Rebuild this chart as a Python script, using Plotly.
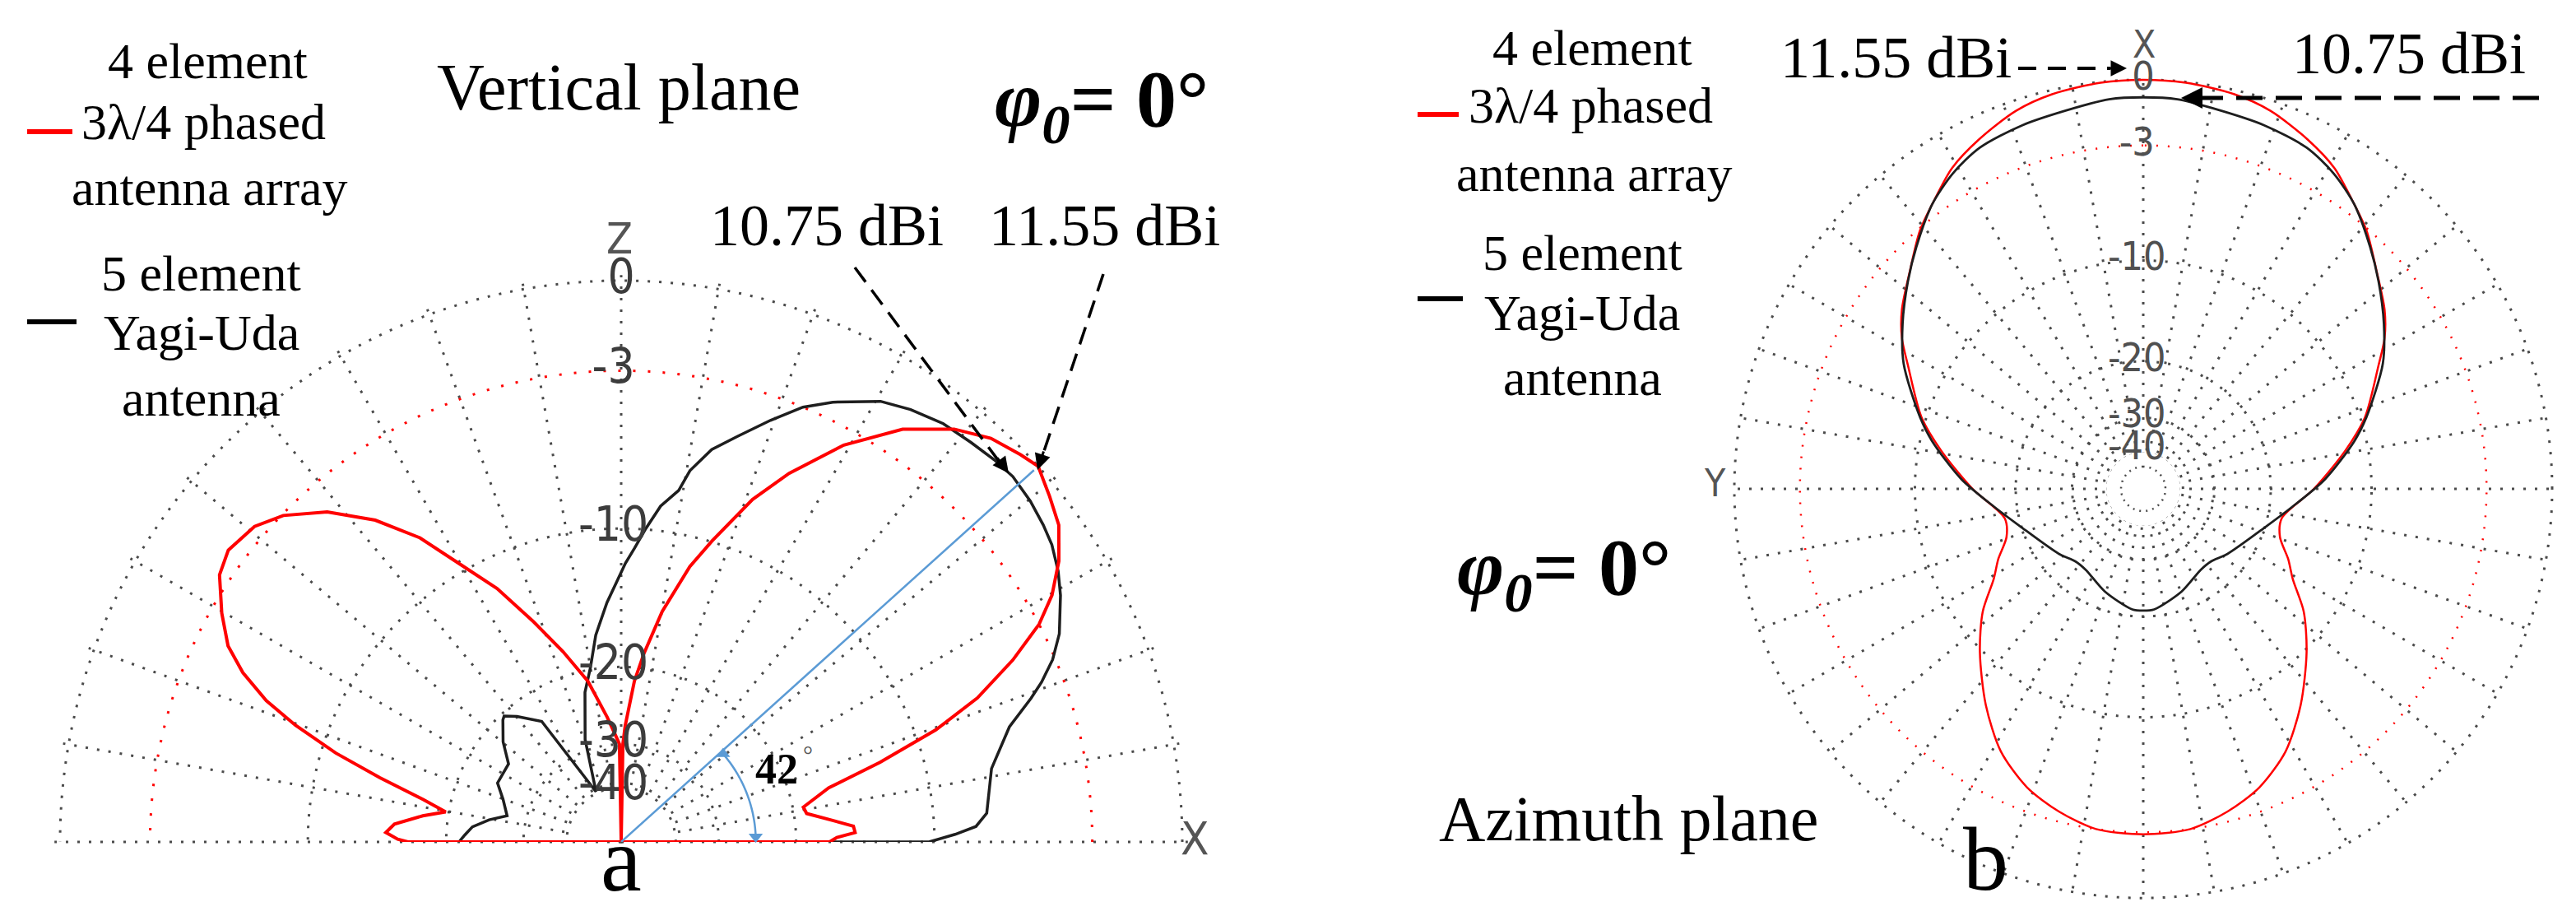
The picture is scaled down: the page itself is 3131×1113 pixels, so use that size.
import numpy as np
import plotly.graph_objects as go

W, H = 3131, 1113

# ---------------- data (gain in dB, relative to 11.55 dBi) ----------------
# (a) Vertical plane, elevation angle in degrees (0 = X, 90 = Z)
v_red_theta = [0, 1.2, 2.3, 3.9, 6.1, 8.7, 10.8, 14.6, 17.1, 19.6, 22.0, 24.9, 27.5, 29.8, 32.7,
               35.9, 38.9, 42.0, 44.1, 47.5, 51.1, 55.7, 60.7, 65.5, 69.0, 73.2, 76.0, 79.9, 83.1,
               85.3, 88.0, 89.0, 90.0, 91.0, 93.0, 96.4, 101.7, 107.0, 111.7, 116.1, 120.1, 123.5,
               127.4, 131.7, 136.0, 139.3, 143.4, 146.4, 150.2, 153.5, 155.9, 158.3, 160.3, 162.7,
               165.1, 167.9, 170.3, 172.5, 175.5, 177.7, 179.3, 180]
v_red_db = [-17.0, -16.4, -15.0, -15.1, -16.9, -18.8, -19.0, -16.5, -12.5, -8.9, -6.5, -4.5, -3.0,
            -2.1, -1.3, -0.65, -0.33, 0.0, -0.15, -0.43, -0.97, -2.0, -3.6, -5.6, -7.3, -9.95,
            -11.7, -15.0, -18.6, -21.4, -27.0, -30.0, -100, -30.0, -28.5, -25.7, -21.1, -17.8,
            -14.8, -11.8, -9.6, -7.4, -5.6, -4.1, -3.05, -2.55, -2.35, -2.6, -3.4, -4.2, -5.2,
            -6.6, -8.3, -10.8, -13.9, -17.5, -19.7, -17.7, -15.5, -14.9, -15.8, -16.6]

v_blk_theta = [0, 1.3, 2.5, 4.5, 11.2, 16.5, 19.3, 20.8, 22.9, 25.4, 29.3, 31.8, 34.6, 36.9, 39.8,
               43.0, 45.7, 48.8, 52.4, 56.2, 59.5, 64.3, 67.3, 70.5, 74.0, 77.0, 79.5, 80.7, 83.3,
               85.5, 87.4, 89.1, 93.4, 97.0, 100.0, 103.6, 109.4, 116.6, 123.4, 129.7, 132.9,
               134.1, 139.7, 145.3, 154.5, 160.2, 167.1, 170.5, 174.2, 177.5, 180]
v_blk_db = [-10.3, -8.9, -7.85, -7.3, -6.8, -5.6, -4.4, -3.8, -3.1, -2.5, -1.85, -1.5, -1.2, -1.05,
            -0.9, -0.8, -0.85, -0.95, -1.05, -1.3, -1.6, -2.4, -3.0, -3.9, -4.9, -5.7, -6.8, -7.8,
            -8.7, -9.95, -11.1, -12.0, -14.6, -17.0, -19.8, -22.2, -28.2, -39.5, -23.3, -21.2,
            -20.3, -20.5, -22.1, -24.2, -24.2, -25.7, -26.9, -24.6, -22.7, -21.9, -21.3]

# (b) Azimuth plane, azimuth in degrees (0 = X), one symmetric half 0..180
a_red_theta = [0, 6, 13, 18.6, 25.2, 30.8, 35.3, 40.8, 46.8, 53.4, 58, 62.4, 72.1, 79.3, 90, 102,
               109.4, 115.8, 121.1, 127.4, 135, 143.9, 151.5, 158.7, 165.4, 172.1, 180]
a_red_db = [0, -0.03, -0.17, -0.43, -0.99, -1.56, -2.27, -3.09, -4.22, -5.28, -6.22, -7.42, -9.65,
            -11.8, -15.0, -18.2, -17.8, -16.0, -14.6, -12.1, -9.8, -7.3, -5.4, -4.2, -3.5, -3.0, -2.9]

a_blk_theta = [0, 5, 10.2, 18.4, 25.6, 31.1, 36.6, 43.2, 48.6, 55.5, 62.4, 72, 77.2, 87, 97.2,
               106.7, 127.6, 137, 144.5, 159.5, 174.8, 180]
a_blk_db = [-0.75, -0.77, -0.95, -1.12, -1.34, -1.79, -2.47, -3.6, -4.55, -5.78, -7.1, -9.5, -10.9,
            -13.9, -17.3, -19.8, -23.1, -24.3, -24.3, -22.6, -20.9, -20.8]

ring_db = [-40, -30, -20, -10, 0]
label_db = [0, -3, -10, -20, -30, -40]
label_txt = ["0", "-3", "-10", "-20", "-30", "-40"]
peak_angle = 42

# ---------------- helpers ----------------
def tr(db):
    """ARRL-style log-periodic radial scale: 0.89 per 2 dB."""
    return [0.89 ** (-d / 2.0) for d in db]


def mirror(theta, vals):
    th = list(theta) + [360 - t for t in reversed(theta[:-1])]
    vv = list(vals) + list(reversed(vals[:-1]))
    return th, vv


def X(px):
    return px / W


def Y(py):
    return 1 - py / H


RMAX = 1.01
GRID = "#4a4a4a"
RED = "#ff0000"
BLK = "#1e1e1e"
BLUE = "#5b9bd5"
SERIF = "Liberation Serif, Times New Roman, serif"
SANS = "Liberation Sans Narrow, DejaVu Sans Condensed, Liberation Sans, sans-serif"

fig = go.Figure()

# ---------------- left: vertical plane ----------------
th_half = np.linspace(0, 180, 91)
fig.add_trace(go.Scatterpolar(theta=th_half, r=[0.09] * len(th_half), mode="lines", fill="toself",
                              fillcolor="white", line=dict(width=0, color="white"),
                              hoverinfo="skip", subplot="polar"))
th_h2 = np.linspace(0, 180, 181)
fig.add_trace(go.Scatterpolar(theta=th_h2, r=tr([-3]) * len(th_h2), mode="lines",
                              line=dict(color=RED, width=3, dash="3px,15px"),
                              hoverinfo="skip", subplot="polar"))
rb = tr(v_blk_db)
fig.add_trace(go.Scatterpolar(theta=v_blk_theta + [v_blk_theta[0]], r=rb + [rb[0]], mode="lines",
                              line=dict(color=BLK, width=3.5), subplot="polar"))
rr = tr(v_red_db)
fig.add_trace(go.Scatterpolar(theta=v_red_theta + [v_red_theta[0]], r=rr + [rr[0]], mode="lines",
                              line=dict(color=RED, width=4), subplot="polar"))
# 42 degree marker line and arc
fig.add_trace(go.Scatterpolar(theta=[peak_angle, peak_angle], r=[0, 0.99], mode="lines",
                              line=dict(color=BLUE, width=2.5), subplot="polar"))
arc_th = np.linspace(3, 40, 40)
fig.add_trace(go.Scatterpolar(theta=arc_th, r=[0.24] * len(arc_th), mode="lines",
                              line=dict(color=BLUE, width=2.5), subplot="polar"))
fig.add_trace(go.Scatterpolar(theta=[2.2, 40.8], r=[0.24, 0.24], mode="markers",
                              marker=dict(symbol=["triangle-down", "triangle-up"], size=15,
                                          color=BLUE), subplot="polar"))
lab_l = [t if t == "0" else t + "<span style='color:rgba(0,0,0,0)'>-</span>" for t in label_txt]
fig.add_trace(go.Scatterpolar(theta=[90] * len(label_db), r=tr(label_db), mode="text",
                              text=lab_l, textposition="middle center", cliponaxis=False,
                              textfont=dict(family=SANS, size=58, color="#3c3c3c"),
                              subplot="polar"))

# ---------------- right: azimuth plane ----------------
th_full = np.linspace(0, 360, 361)
fig.add_trace(go.Scatterpolar(theta=th_full, r=[0.09] * len(th_full), mode="lines", fill="toself",
                              fillcolor="white", line=dict(width=0, color="white"),
                              hoverinfo="skip", subplot="polar2"))
fig.add_trace(go.Scatterpolar(theta=th_full, r=tr([-50]) * len(th_full), mode="lines",
                              line=dict(color=GRID, width=2.5, dash="2px,6px"),
                              hoverinfo="skip", subplot="polar2"))
fig.add_trace(go.Scatterpolar(theta=th_full, r=tr([-3]) * len(th_full), mode="lines",
                              line=dict(color=RED, width=2.5, dash="2px,12px"),
                              hoverinfo="skip", subplot="polar2"))
t_r, d_r = mirror(a_red_theta, a_red_db)
fig.add_trace(go.Scatterpolar(theta=t_r, r=tr(d_r), mode="lines",
                              line=dict(color=RED, width=2.5, shape="spline", smoothing=0.8),
                              subplot="polar2"))
t_b, d_b = mirror(a_blk_theta, a_blk_db)
fig.add_trace(go.Scatterpolar(theta=t_b, r=tr(d_b), mode="lines",
                              line=dict(color=BLK, width=2.8, shape="spline", smoothing=0.8),
                              subplot="polar2"))
fig.add_trace(go.Scatterpolar(theta=[0] * len(label_db), r=tr(label_db), mode="text",
                              text=lab_l, textposition="middle center", cliponaxis=False,
                              textfont=dict(family=SANS, size=48, color="#505050"),
                              subplot="polar2"))

# ---------------- polar layouts ----------------
cxL, cyL, RL = 747, 1015, 682
cxR, cyR, RR = 2597, 586, 497

axis_common = dict(showticklabels=False, ticks="", showline=False, gridcolor=GRID,
                   griddash="3px,11px", gridwidth=3)

fig.update_layout(
    width=W, height=H, margin=dict(l=0, r=0, t=0, b=0),
    paper_bgcolor="white", plot_bgcolor="white", showlegend=False,
    polar=dict(
        domain=dict(x=[X(cxL - RL * RMAX), X(cxL + RL * RMAX)],
                    y=[Y(cyL), Y(cyL - RL * RMAX)]),
        sector=[0, 180], bgcolor="white",
        radialaxis=dict(range=[0, RMAX], tickmode="array", tickvals=tr(ring_db), **axis_common),
        angularaxis=dict(tickmode="linear", tick0=0, dtick=10, rotation=0,
                         direction="counterclockwise", **axis_common),
    ),
    polar2=dict(
        domain=dict(x=[X(cxR - RR * RMAX), X(cxR + RR * RMAX)],
                    y=[Y(cyR + RR * RMAX), Y(cyR - RR * RMAX)]),
        bgcolor="white",
        radialaxis=dict(range=[0, RMAX], tickmode="array", tickvals=tr(ring_db), **axis_common),
        angularaxis=dict(tickmode="linear", tick0=0, dtick=10, rotation=90,
                         direction="counterclockwise", **axis_common),
    ),
)

# ---------------- text annotations ----------------
anns = []


def text(t, x, y, size, xanchor="center", family=SERIF, color="black"):
    anns.append(dict(text=t, x=X(x), y=Y(y), xref="paper", yref="paper", showarrow=False,
                     xanchor=xanchor, yanchor="middle", font=dict(family=family, size=size,
                                                                 color=color)))


def head(x, y, ax, ay, width=3):
    anns.append(dict(text="", x=X(x), y=Y(y), xref="paper", yref="paper", showarrow=True,
                     ax=ax, ay=ay, arrowhead=2, arrowsize=1.3, arrowwidth=width,
                     arrowcolor="black", standoff=0))


# left legend & titles
text("4 element", 244, 66, 62)
text("3λ/4 phased", 89, 140, 62, xanchor="left")
text("antenna array", 247, 220, 62)
text("5 element", 237, 324, 62)
text("Yagi-Uda", 237, 396, 62)
text("antenna", 237, 476, 62)
text("Vertical plane", 744, 98, 80)
text("<b><i>φ<sub>0</sub></i>= 0°</b>", 1331, 120, 98)
text("10.75 dBi", 997, 266, 72)
text("11.55 dBi", 1334, 266, 72)
text("<b>42</b>", 936, 926, 52)
text("°", 974, 908, 30, color="#555")
text("a", 747, 1036, 112)
text("Z", 745, 282, 52, family=SANS, color="#555")
text("X", 1444, 1010, 56, family=SANS, color="#555")

# right legend & titles
text("4 element", 1928, 50, 62)
text("3λ/4 phased", 1775, 120, 62, xanchor="left")
text("antenna array", 1930, 203, 62)
text("5 element", 1915, 299, 62)
text("Yagi-Uda", 1915, 372, 62)
text("antenna", 1915, 451, 62)
text("<b><i>φ<sub>0</sub></i>= 0°</b>", 1893, 688, 98)
text("Azimuth plane", 1971, 986, 78)
text("11.55 dBi", 2296, 62, 72)
text("10.75 dBi", 2920, 57, 72)
text("b", 2405, 1036, 110)
text("X", 2598, 46, 46, family=SANS, color="#555")
text("Y", 2076, 579, 46, family=SANS, color="#555")

# arrow heads
head(1218, 567, -15, -20)
head(1253, 563, 8, -24)
head(2577, 75, -22, 0)
head(2643, 111, 22, 0, width=4)

fig.update_layout(annotations=anns)

# ---------------- shapes: legend dashes, dashed leader lines ----------------
shapes = []


def seg(x0, y0, x1, y1, color="black", width=3, dash="solid"):
    shapes.append(dict(type="line", xref="paper", yref="paper", x0=X(x0), y0=Y(y0), x1=X(x1),
                       y1=Y(y1), line=dict(color=color, width=width, dash=dash)))


seg(25, 152, 80, 152, RED, 6)
seg(25, 383, 85, 383, "black", 6)
seg(1715, 131, 1765, 131, RED, 6)
seg(1715, 355, 1770, 355, "black", 6)
seg(1031, 317, 1208, 555, width=3.5, dash="22px,12px")
seg(1333, 325, 1257, 552, width=3.5, dash="22px,12px")
seg(2445, 75, 2557, 75, width=4, dash="22px,14px")
seg(3078, 111, 2663, 111, width=5, dash="32px,16px")

fig.update_layout(shapes=shapes)

fig.write_html("out.html")
